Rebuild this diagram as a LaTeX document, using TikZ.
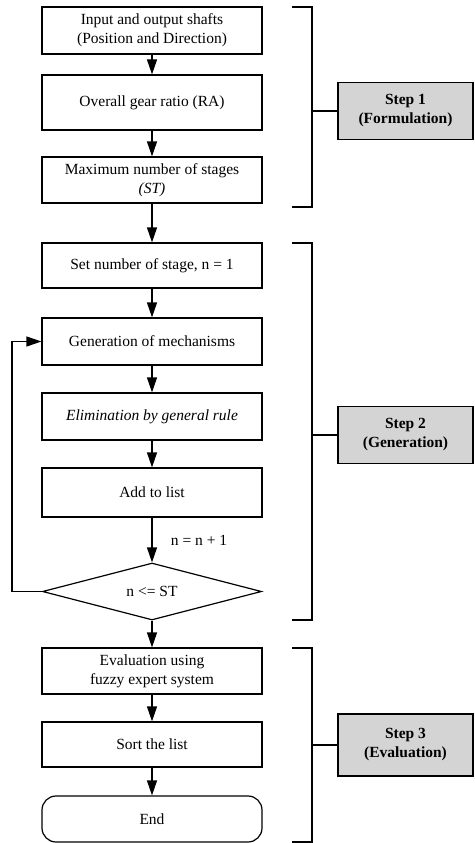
\documentclass[tikz,border=0pt]{standalone}
\usepackage{fontspec}
\setmainfont{Liberation Serif}
\usetikzlibrary{shapes.geometric,arrows.meta}
\begin{document}
\begin{tikzpicture}[x=1pt,y=-1pt,
  every node/.style={font=\fontsize{15.5}{19}\selectfont},
  box/.style={draw,line width=1.2pt,minimum width=220pt,align=center,inner sep=0pt},
  stepbox/.style={draw,line width=1.2pt,fill=black!17,minimum width=135pt,align=center,inner sep=0pt,font=\fontsize{15.5}{19}\selectfont\bfseries},
  arr/.style={line width=1.2pt,-{Triangle[length=15pt,width=10pt]}},
  ln/.style={line width=1.2pt}]
\useasboundingbox (0,0) rectangle (474,843);
\node[box,minimum height=47pt] (b1) at (152,30.5) {Input and output shafts\\(Position and Direction)};
\node[box,minimum height=55pt] (b2) at (152,102.5) {Overall gear ratio (RA)};
\node[box,minimum height=46pt] (b3) at (152,180) {Maximum number of stages\\\textit{(ST)}};
\node[box,minimum height=45pt] (b4) at (152,265.5) {Set number of stage, n = 1};
\node[box,minimum height=47pt] (b5) at (152,341.5) {Generation of mechanisms};
\node[box,minimum height=47pt] (b6) at (152,416.5) {\textit{Elimination by general rule}};
\node[box,minimum height=49pt] (b7) at (152,492.5) {Add to list};
\node[draw,line width=1.2pt,diamond,aspect=3.84,minimum width=219pt,minimum height=57pt,inner sep=0pt] (d) at (152,591.5) {n <= ST};
\node[box,minimum height=46pt] (b8) at (152,671) {Evaluation using\\fuzzy expert system};
\node[box,minimum height=45pt] (b9) at (152,744.5) {Sort the list};
\node[box,minimum height=46pt,rounded corners=14pt] (e) at (152,819) {End};
\node (lbl) at (199,540) {n = n + 1};
\draw[arr] (b1) -- (b2);
\draw[arr] (b2) -- (b3);
\draw[arr] (b3) -- (b4);
\draw[arr] (b4) -- (b5);
\draw[arr] (b5) -- (b6);
\draw[arr] (b6) -- (b7);
\draw[arr] (b7) -- (d);
\draw[arr] (d) -- (b8);
\draw[arr] (b8) -- (b9);
\draw[arr] (b9) -- (e);
\draw[arr] (d.west) -- ++(-30,0) |- (b5.west);
% steps
\node[stepbox,minimum height=57pt] (s1) at (405.5,111) {Step 1\\(Formulation)};
\node[stepbox,minimum height=57pt] (s2) at (405.5,435) {Step 2\\(Generation)};
\node[stepbox,minimum height=62pt] (s3) at (405.5,745) {Step 3\\(Evaluation)};
\coordinate (t1a) at (292,7); \coordinate (t1b) at (292,207);
\coordinate (t2a) at (292,243); \coordinate (t2b) at (292,620);
\coordinate (t3a) at (292,648); \coordinate (t3b) at (292,842);
\draw[ln] (t1a) -- ++(20,0) coordinate (k1a) -- (k1a |- t1b) -- (t1b);
\draw[ln] (t2a) -- ++(20,0) coordinate (k2a) -- (k2a |- t2b) -- (t2b);
\draw[ln] (t3a) -- ++(20,0) coordinate (k3a) -- (k3a |- t3b) -- (t3b);
\draw[ln] (k1a |- s1.west) -- (s1.west);
\draw[ln] (k2a |- s2.west) -- (s2.west);
\draw[ln] (k3a |- s3.west) -- (s3.west);
\end{tikzpicture}
\end{document}
